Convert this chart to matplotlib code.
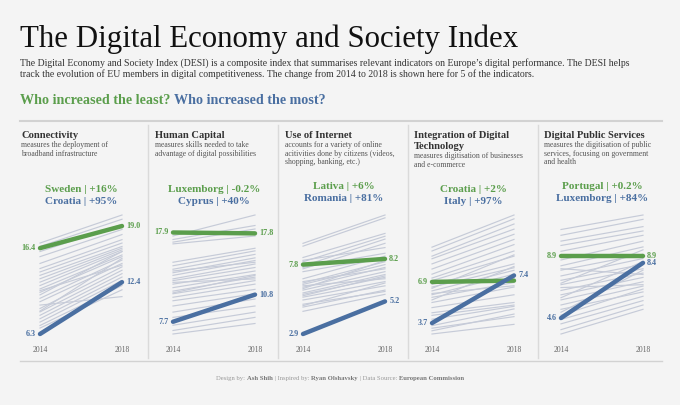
import matplotlib
matplotlib.use("Agg")
import matplotlib.pyplot as plt
from matplotlib.lines import Line2D

plt.rcParams["font.family"] = ["Liberation Serif", "DejaVu Serif"]

W, H = 680, 405
BG = "#f4f4f4"
GREEN = "#5b9e4c"
BLUE = "#4a6fa1"
GRAY_LINE = "#c6cbd8"

# ---- data ----
years = [2014, 2018]

titles = [
    ["Connectivity"],
    ["Human Capital"],
    ["Use of Internet"],
    ["Integration of Digital", "Technology"],
    ["Digital Public Services"],
]
descs = [
    ["measures the deployment of", "broadband infrastructure"],
    ["measures skills needed to take", "advantage of digital possibilities"],
    ["accounts for a variety of online", "acitivities done by citizens (videos,", "shopping, banking, etc.)"],
    ["measures digitisation of businesses", "and e-commerce"],
    ["measures the digitisation of public", "services, focusing on government", "and health"],
]

least_names = ["Sweden | +16%", "Luxemborg | -0.2%", "Lativa | +6%", "Croatia | +2%", "Portugal | +0.2%"]
most_names = ["Croatia | +95%", "Cyprus | +40%", "Romania | +81%", "Italy | +97%", "Luxemborg | +84%"]

least_vals = [(16.4, 19.0), (17.9, 17.8), (7.8, 8.2), (6.9, 7.0), (8.9, 8.9)]
most_vals = [(6.3, 12.4), (7.7, 10.8), (2.9, 5.2), (3.7, 7.4), (4.6, 8.4)]
least_right_label = [True, True, True, False, True]

others_2014 = [
    [17.0, 16.6, 16.0, 15.4, 14.6, 14.0, 13.6, 13.2, 12.8, 12.4, 12.0, 11.6, 11.2,
     10.9, 10.5, 10.1, 9.7, 9.3, 8.9, 8.5, 8.1, 7.7, 7.3, 7.0, 11.4, 9.0],
    [17.5, 17.1, 16.8, 16.6, 14.5, 14.1, 13.7, 13.3, 13.0, 12.6, 12.4, 12.0, 11.6,
     11.2, 10.9, 10.5, 10.1, 9.5, 8.8, 8.2, 7.3, 6.7, 6.3, 13.5, 11.0, 12.2],
    [9.3, 9.1, 8.3, 8.0, 7.7, 7.5, 8.1, 7.6, 6.8, 6.5, 6.4, 6.2, 6.0,
     5.8, 5.7, 5.5, 5.3, 5.0, 4.8, 4.5, 6.6, 6.1, 5.6, 7.3, 4.9, 6.3],
    [9.6, 9.3, 8.9, 8.7, 8.3, 7.9, 7.5, 7.2, 7.0, 6.7, 6.5, 6.2, 5.9,
     5.7, 5.3, 4.9, 4.5, 4.0, 3.5, 3.1, 2.85, 6.4, 5.5, 6.0, 4.3, 3.3],
    [10.7, 10.3, 9.9, 9.6, 9.2, 8.6, 8.2, 7.9, 7.5, 7.2, 6.9, 6.5, 6.2,
     5.85, 5.5, 5.2, 4.5, 4.2, 3.8, 3.5, 7.0, 6.0, 5.0, 8.0, 6.7, 4.8],
]
others_2018 = [
    [20.3, 19.8, 19.2, 18.6, 18.0, 17.4, 17.0, 16.6, 16.4, 16.2, 16.0, 15.6, 15.4,
     16.0, 15.0, 14.6, 10.7, 14.2, 13.8, 13.4, 13.0, 12.6, 12.0, 11.5, 14.4, 15.2],
    [19.9, 18.7, 18.3, 17.5, 16.1, 15.8, 15.4, 15.0, 14.7, 14.3, 13.9, 13.5, 13.1,
     12.8, 12.4, 12.0, 11.4, 10.9, 10.3, 9.5, 8.8, 8.2, 7.5, 14.5, 13.0, 12.6],
    [11.3, 11.1, 10.0, 9.8, 9.6, 9.3, 9.0, 8.6, 8.4, 8.0, 7.8, 7.6, 7.3,
     7.1, 6.9, 6.6, 6.3, 5.9, 6.0, 5.7, 7.5, 8.1, 7.0, 8.3, 6.5, 6.8],
    [12.1, 11.8, 11.4, 11.0, 10.6, 10.2, 9.8, 9.3, 8.9, 8.3, 8.0, 7.8, 7.5,
     6.85, 6.5, 5.9, 5.3, 5.0, 4.8, 4.4, 3.6, 9.0, 8.1, 6.6, 5.1, 4.2],
    [11.7, 11.4, 10.9, 10.6, 10.3, 9.9, 9.5, 9.0, 8.7, 8.3, 8.0, 7.7, 7.4,
     7.1, 6.8, 6.4, 6.1, 5.8, 5.5, 5.2, 9.3, 8.5, 7.9, 7.6, 6.9, 6.6],
]


def fx(x):
    return x / W


def fy(y):
    return 1 - y / H


fig = plt.figure(figsize=(6.8, 4.05), dpi=100)
fig.patch.set_facecolor(BG)


def hline(x1, x2, y, color="#d2d2d2", lw=1.2):
    fig.add_artist(Line2D([fx(x1), fx(x2)], [fy(y), fy(y)], transform=fig.transFigure,
                          color=color, lw=lw))


def vline(x, y1, y2, color="#dadada", lw=1.0):
    fig.add_artist(Line2D([fx(x), fx(x)], [fy(y1), fy(y2)], transform=fig.transFigure,
                          color=color, lw=lw))


def rich(x, y, parts, size, ha="left"):
    # draw pieces of text one after another on the same baseline
    texts = [fig.text(0, fy(y), s, color=c, fontweight=w, fontsize=size, va="baseline")
             for s, c, w in parts]
    fig.canvas.draw()
    r = fig.canvas.get_renderer()
    widths = [t.get_window_extent(r).width for t in texts]
    start = x - sum(widths) / 2 if ha == "center" else x
    for t, w in zip(texts, widths):
        t.set_x(fx(start))
        start += w


# ---- header ----
fig.text(fx(20), fy(47), "The Digital Economy and Society Index", fontsize=22.2, color="#111111",
         va="baseline")
fig.text(fx(20), fy(66), "The Digital Economy and Society Index (DESI) is a composite index that "
         "summarises relevant indicators on Europe\u2019s digital performance. The DESI helps",
         fontsize=7.0, color="#333333", va="baseline")
fig.text(fx(20), fy(77), "track the evolution of EU members in digital competitiveness. The change "
         "from 2014 to 2018 is shown here for 5 of the indicators.",
         fontsize=7.0, color="#333333", va="baseline")
rich(20, 104.5, [("Who increased the least? ", GREEN, "bold"),
                 ("Who increased the most?", BLUE, "bold")], 10.15)

hline(20, 662, 121, lw=1.5)
hline(20, 662, 361, lw=1.0)
for x in [148, 278, 408, 538]:
    vline(x, 125, 358)

# ---- panels ----
title_x = [21, 155, 285, 414, 544]
x2014 = [40, 173, 303, 432, 561]
plot_w = 82
label_base = [192, 192, 189, 192, 189]

for i in range(5):
    # titles and descriptions
    base = 138
    for line in titles[i]:
        fig.text(fx(title_x[i]), fy(base), line, fontsize=7.6, fontweight="bold",
                 color="#333333", va="baseline")
        base += 11
    base -= 2
    for line in descs[i]:
        fig.text(fx(title_x[i]), fy(base), line, fontsize=5.6, color="#555555", va="baseline")
        base += 8.6

    cx = x2014[i] + plot_w / 2
    fig.text(fx(cx), fy(label_base[i]), least_names[i], fontsize=8, fontweight="bold",
             color=GREEN, ha="center", va="baseline")
    fig.text(fx(cx), fy(label_base[i] + 11.5), most_names[i], fontsize=8, fontweight="bold",
             color=BLUE, ha="center", va="baseline")

    ax = fig.add_axes([fx(x2014[i]), fy(334), plot_w / W, (334 - 215) / H])
    ax.set_facecolor("none")
    ax.axis("off")

    for a, b in zip(others_2014[i], others_2018[i]):
        ax.plot(years, [a, b], color=GRAY_LINE, lw=0.85, zorder=1, clip_on=False)
    ax.plot(years, least_vals[i], color=GREEN, lw=3.2, zorder=3, clip_on=False,
            solid_capstyle="round")
    ax.plot(years, most_vals[i], color=BLUE, lw=3.2, zorder=4, clip_on=False,
            solid_capstyle="round")

    lo = min(others_2014[i] + others_2018[i] + list(least_vals[i]) + list(most_vals[i]))
    hi = max(others_2014[i] + others_2018[i] + list(least_vals[i]) + list(most_vals[i]))
    ax.set_ylim(lo, hi)
    ax.set_xlim(2014, 2018)

    for vals, col, show_r in [(least_vals[i], GREEN, least_right_label[i]),
                              (most_vals[i], BLUE, True)]:
        ax.annotate(f"{vals[0]:.1f}", (2014, vals[0]), xytext=(-3, 0), textcoords="offset points",
                    ha="right", va="center", fontsize=5.9, fontweight="bold", color=col)
        if show_r:
            ax.annotate(f"{vals[1]:.1f}", (2018, vals[1]), xytext=(3, 0),
                        textcoords="offset points", ha="left", va="center", fontsize=5.9,
                        fontweight="bold", color=col)

    for yr in years:
        ax.annotate(str(yr), (yr, lo), xytext=(0, -(352 - 334) * 0.72),
                    textcoords="offset points", ha="center", va="baseline", fontsize=5.5,
                    color="#666666", annotation_clip=False)

# ---- footer ----
rich(340, 380, [("Design by: ", "#999999", "normal"), ("Ash Shih", "#777777", "bold"),
                (" | Inspired by: ", "#999999", "normal"), ("Ryan Olshavsky", "#777777", "bold"),
                (" | Data Source: ", "#999999", "normal"),
                ("European Commission", "#777777", "bold")], 4.8, ha="center")

fig.savefig("out.png", dpi=100, facecolor=BG)
